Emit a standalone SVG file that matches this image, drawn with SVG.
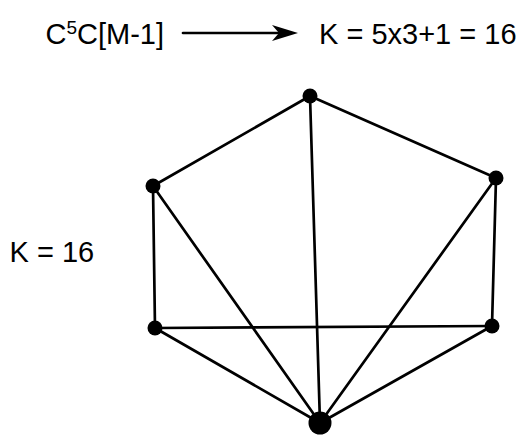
<svg xmlns="http://www.w3.org/2000/svg" width="525" height="435" viewBox="0 0 525 435">
<style>
.t{font-family:"Liberation Sans",Arial,sans-serif;font-size:29px;fill:#000}
.e{stroke:#000;stroke-width:2.7;fill:none;stroke-linecap:round}
.n{fill:#000}
</style>
<rect width="525" height="435" fill="#fff"/>
<g id="labels">
<text class="t" x="45.5" y="44">C<tspan font-size="19" dy="-10">5</tspan><tspan dy="10">C[M-1]</tspan></text>
<text class="t" x="319" y="44">K = 5x3+1 = 16</text>
<text class="t" x="9.5" y="262">K = 16</text>
</g>
<g id="arrow">
<line class="e" x1="183" y1="33" x2="280" y2="33"/>
<path d="M298,33 L272,25 L279,33 L272,41 Z" fill="#000"/>
</g>
<g id="connectors">
<line class="e" x1="310" y1="96" x2="153" y2="186"/>
<line class="e" x1="310" y1="96" x2="496" y2="178"/>
<line class="e" x1="310" y1="96" x2="320" y2="423"/>
<line class="e" x1="153" y1="186" x2="155" y2="328"/>
<line class="e" x1="153" y1="186" x2="320" y2="423"/>
<line class="e" x1="496" y1="178" x2="492" y2="326"/>
<line class="e" x1="496" y1="178" x2="320" y2="423"/>
<line class="e" x1="155" y1="328" x2="492" y2="326"/>
<line class="e" x1="155" y1="328" x2="320" y2="423"/>
<line class="e" x1="492" y1="326" x2="320" y2="423"/>
</g>
<g id="node-top"><circle class="n" cx="310" cy="96" r="7.5"/></g>
<g id="node-ul"><circle class="n" cx="153" cy="186" r="7.5"/></g>
<g id="node-ur"><circle class="n" cx="496" cy="178" r="7.5"/></g>
<g id="node-ll"><circle class="n" cx="155" cy="328" r="7.5"/></g>
<g id="node-lr"><circle class="n" cx="492" cy="326" r="7.5"/></g>
<g id="node-bottom"><circle class="n" cx="320" cy="423" r="11.5"/></g>
</svg>
